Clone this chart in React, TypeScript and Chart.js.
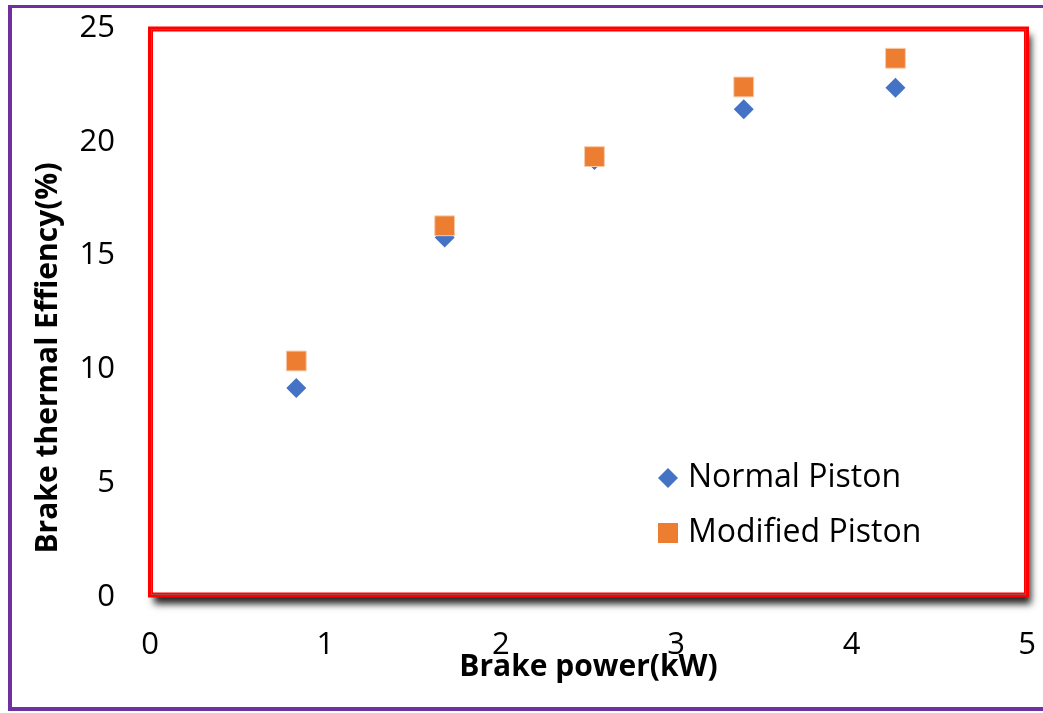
import React, { useEffect, useRef } from 'react';
import { Chart, registerables } from 'chart.js';

Chart.register(...registerables);

const brakePower = [0.834, 1.68, 2.534, 3.385, 4.25];
const normalPiston = [9.18, 15.79, 19.2, 21.43, 22.38];
const modifiedPiston = [10.37, 16.31, 19.35, 22.41, 23.67];
const seriesLabels = ['Normal Piston', 'Modified Piston'];
const xTitle = 'Brake power(kW)';
const yTitle = 'Brake thermal Effiency(%)';
const xRange = [0, 5];
const yRange = [0, 25];

const BLUE = '#4472C4';
const ORANGE = '#ED7D31';
const FONT = '"Open Sans"';

const framePlugin = {
  id: 'frame',
  beforeDatasetsDraw(chart: any) {
    const { ctx, chartArea: ca } = chart;
    ctx.save();
    ctx.shadowColor = 'rgba(0,0,0,0.85)';
    ctx.shadowBlur = 7;
    ctx.shadowOffsetX = 4;
    ctx.shadowOffsetY = 7;
    ctx.fillStyle = '#ffffff';
    ctx.fillRect(ca.left, ca.top, ca.right - ca.left, ca.bottom - ca.top);
    ctx.restore();
    ctx.save();
    ctx.strokeStyle = '#FF0000';
    ctx.lineWidth = 5;
    ctx.strokeRect(ca.left + 0.5, ca.top + 1, ca.right - ca.left - 1, ca.bottom - ca.top - 3);
    ctx.strokeStyle = 'rgba(120,120,120,0.6)';
    ctx.lineWidth = 1;
    ctx.strokeRect(ca.left + 1.5, ca.top + 1.5, ca.right - ca.left - 3, ca.bottom - ca.top - 4);
    ctx.restore();
  },
};

const yTitlePlugin = {
  id: 'yTitleText',
  afterDraw(chart: any) {
    const { ctx } = chart;
    ctx.save();
    ctx.translate(48, 358);
    ctx.rotate(-Math.PI / 2);
    ctx.font = `bold 30px ${FONT}`;
    ctx.fillStyle = '#000';
    ctx.textAlign = 'center';
    ctx.textBaseline = 'middle';
    ctx.fillText(yTitle, 0, 0);
    ctx.restore();
  },
};

const legendPlugin = {
  id: 'innerLegend',
  afterDraw(chart: any) {
    const { ctx, chartArea: ca } = chart;
    const mx = ca.right - 359;
    const rows = [ca.bottom - 119, ca.bottom - 64];
    ctx.save();
    ctx.font = `32px ${FONT}`;
    ctx.fillStyle = '#000';
    ctx.textBaseline = 'middle';
    ctx.textAlign = 'left';
    rows.forEach((y, i) => {
      if (i === 0) {
        ctx.fillStyle = BLUE;
        ctx.beginPath();
        ctx.moveTo(mx - 10, y);
        ctx.lineTo(mx, y - 10);
        ctx.lineTo(mx + 10, y);
        ctx.lineTo(mx, y + 10);
        ctx.closePath();
        ctx.fill();
      } else {
        ctx.fillStyle = ORANGE;
        ctx.fillRect(mx - 10, y - 10, 20, 20);
      }
      ctx.fillStyle = '#000';
      ctx.fillText(seriesLabels[i], mx + 20, y);
    });
    ctx.restore();
  },
};

export default function App() {
  const ref = useRef<HTMLCanvasElement>(null);

  useEffect(() => {
    if (!ref.current) return;
    const chart = new Chart(ref.current, {
      type: 'scatter',
      data: {
        datasets: [
          {
            label: seriesLabels[0],
            data: brakePower.map((x, i) => ({ x, y: normalPiston[i] })),
            backgroundColor: BLUE,
            borderColor: BLUE,
            borderWidth: 0,
            pointStyle: 'rectRot',
            pointRadius: 10,
            order: 1,
          },
          {
            label: seriesLabels[1],
            data: brakePower.map((x, i) => ({ x, y: modifiedPiston[i] })),
            backgroundColor: ORANGE,
            borderColor: '#F8C9A8',
            borderWidth: 1,
            pointStyle: 'rect',
            pointRadius: 14,
            order: 0,
          },
        ],
      },
      options: {
        responsive: false,
        animation: false,
        devicePixelRatio: 1,
        layout: { padding: { left: 0, top: 28, right: 16, bottom: 0 } },
        plugins: {
          legend: { display: false },
          tooltip: { enabled: false },
        },
        scales: {
          x: {
            type: 'linear',
            min: xRange[0],
            max: xRange[1],
            grid: { display: false, drawTicks: false },
            border: { display: false },
            ticks: {
              stepSize: 1,
              padding: 30,
              color: '#000',
              font: { family: FONT, size: 31 },
            },
            title: {
              display: true,
              text: xTitle,
              color: '#000',
              font: { family: FONT, size: 30, weight: 'bold' },
              padding: { top: 0, bottom: 28 },
            },
            afterFit(scale: any) {
              scale.height = 116;
              scale.paddingLeft = 0;
              scale.paddingRight = 0;
            },
          },
          y: {
            type: 'linear',
            min: yRange[0],
            max: yRange[1],
            grid: { display: false, drawTicks: false },
            border: { display: false },
            ticks: {
              stepSize: 5,
              padding: 35,
              color: '#000',
              font: { family: FONT, size: 31 },
            },
            afterFit(scale: any) {
              scale.width = 150;
              scale.paddingTop = 0;
              scale.paddingBottom = 0;
            },
          },
        },
      },
      plugins: [framePlugin, yTitlePlugin, legendPlugin],
    });
    return () => chart.destroy();
  }, []);

  return (
    <div style={{ position: 'absolute', left: 0, top: 0, width: 1043, height: 713, overflow: 'hidden', background: '#fff' }}>
      <canvas ref={ref} width={1043} height={713} style={{ position: 'absolute', left: 0, top: 0 }} />
      <div
        style={{
          position: 'absolute',
          left: 8,
          top: 5,
          width: 1100,
          height: 699,
          borderLeft: '4px solid #7030A0',
          borderTop: '3px solid #7030A0',
          borderBottom: '4px solid #7030A0',
          pointerEvents: 'none',
        }}
      />
    </div>
  );
}
